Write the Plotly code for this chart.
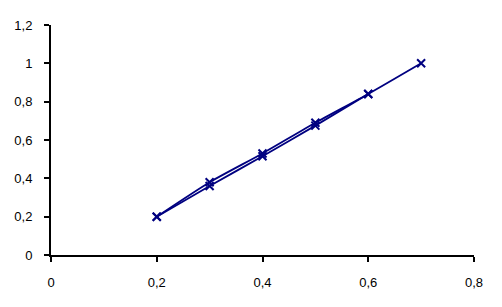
import plotly.graph_objects as go

# Data
x_up = [0.2, 0.3, 0.4, 0.5, 0.6, 0.7]
y_up = [0.2, 0.38, 0.53, 0.69, 0.84, 1.0]
x_low = [0.2, 0.3, 0.4, 0.5, 0.6]
y_low = [0.2, 0.36, 0.515, 0.675, 0.84]

x_ticks = [0, 0.2, 0.4, 0.6, 0.8]
x_labels = ["0", "0,2", "0,4", "0,6", "0,8"]
y_ticks = [0, 0.2, 0.4, 0.6, 0.8, 1.0, 1.2]
y_labels = ["0", "0,2", "0,4", "0,6", "0,8", "1", "1,2"]

navy = "#000080"

fig = go.Figure()
for xs, ys in [(x_up, y_up), (x_low, y_low)]:
    fig.add_trace(go.Scatter(
        x=xs, y=ys, mode="lines+markers",
        line=dict(color=navy, width=1.8, shape="spline", smoothing=0.6),
        marker=dict(symbol="x-thin", size=8, line=dict(color=navy, width=2)),
        showlegend=False,
    ))

fig.update_layout(
    width=502, height=307,
    margin=dict(l=51, r=28, t=25, b=52),
    paper_bgcolor="white", plot_bgcolor="white",
    font=dict(family="Liberation Sans, Arial, sans-serif", size=13, color="black"),
)
fig.update_xaxes(
    range=[0, 0.8], tickvals=x_ticks, ticktext=x_labels,
    showgrid=False, zeroline=False, showline=True, linecolor="black", linewidth=2,
    ticks="outside", ticklen=5, tickwidth=2, tickcolor="black", ticklabelstandoff=9,
)
fig.update_yaxes(
    range=[0, 1.2], tickvals=y_ticks, ticktext=y_labels,
    showgrid=False, zeroline=False, showline=True, linecolor="black", linewidth=2,
    ticks="outside", ticklen=5, tickwidth=2, tickcolor="black", ticklabelstandoff=9,
)

fig.write_html("out.html")
